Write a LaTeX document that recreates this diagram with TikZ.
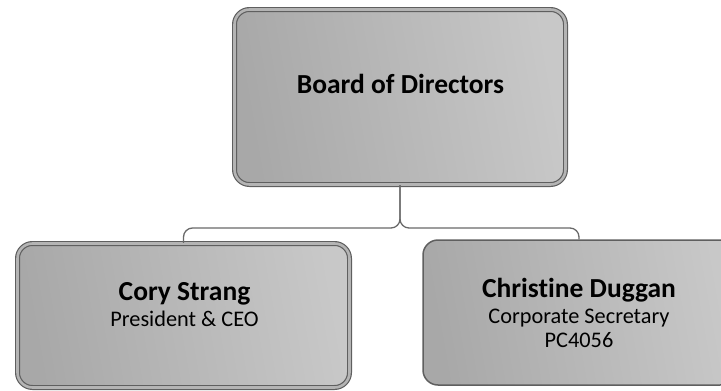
\documentclass[tikz,border=0pt]{standalone}
\usepackage{fontspec}
\setmainfont{Carlito}[Ligatures={NoCommon}]
\usetikzlibrary{calc}
\definecolor{boxline}{RGB}{95,95,95}
\definecolor{shadeL}{RGB}{168,168,168}
\definecolor{shadeR}{RGB}{200,200,200}
\definecolor{gapc}{RGB}{180,180,180}
\definecolor{connc}{RGB}{105,105,105}
\tikzset{
  orgbox/.style={draw=boxline, rounded corners=15pt, left color=shadeL, right color=shadeR, shading angle=100, inner sep=0pt},
  dblbox/.style={orgbox, line width=1.2pt, double=gapc, double distance=2.6pt},
  sglbox/.style={orgbox, line width=1.5pt},
  conn/.style={draw=connc, line width=1.3pt, rounded corners=9pt},
  bigtxt/.style={font=\fontsize{27.5}{32}\selectfont\bfseries, anchor=base, inner sep=0pt},
  smltxt/.style={font=\fontsize{22.3}{26}\selectfont, anchor=base, inner sep=0pt}
}
\begin{document}
\begin{tikzpicture}[x=1pt,y=-1pt]
\useasboundingbox (0,0) rectangle (721,391);
\begin{scope}
\clip (0,0) rectangle (721,391);
\node[dblbox, minimum width=331pt, minimum height=175pt] (top) at (400,97) {};
\node[dblbox, minimum width=332pt, minimum height=144pt] (left) at (183.5,315.5) {};
\node[sglbox, minimum width=312pt, minimum height=145pt] (right) at (579,312.5) {};
\end{scope}
\coordinate (bus) at (400,228);
\draw[conn] (top.south) -- (bus) -| (left.north);
\draw[conn] (top.south) -- (bus) -| (right.north);
\node[bigtxt] (t1) at (400.5,93) {Board of Directors};
\node[bigtxt] (l1) at (184.5,300) {Cory Strang};
\node[smltxt] (l2) at (184.5,326) {President \& CEO};
\node[bigtxt] (r1) at (579,297) {Christine Duggan};
\node[smltxt] (r2) at (579,323) {Corporate Secretary};
\node[smltxt] (r3) at (579,347) {PC4056};
\end{tikzpicture}
\end{document}
